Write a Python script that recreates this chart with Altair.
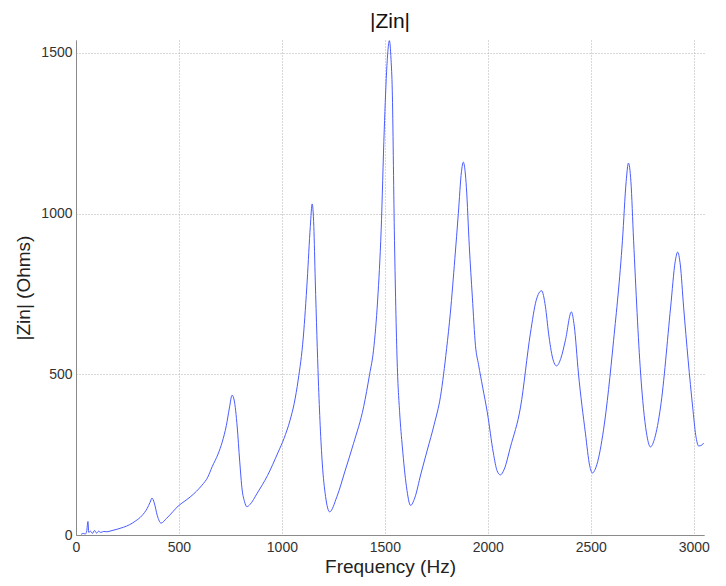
import altair as alt
import pandas as pd

freq = [25, 35, 45, 52, 58, 62, 70, 80, 90, 100, 110, 120, 135, 150, 170, 200, 230, 260, 290, 320,
        345, 360, 369, 380, 395, 413, 440, 470, 496, 525, 554, 585, 612, 640, 661, 690, 710, 730, 745, 758,
        768, 783, 795, 807, 818, 830, 845, 880, 930, 982, 1010, 1040, 1060, 1079, 1104, 1123, 1138, 1147, 1155, 1162,
        1170, 1177, 1186, 1196, 1212, 1232, 1267, 1308, 1348, 1397, 1426, 1445, 1465, 1482, 1497, 1510, 1522, 1530, 1536, 1546, 1560,
        1572, 1585, 1605, 1625, 1645, 1675, 1706, 1740, 1770, 1800, 1818, 1840, 1857, 1872, 1881, 1890, 1896, 1910, 1925, 1940,
        1955, 1975, 1998, 2027, 2045, 2061, 2080, 2110, 2159, 2207, 2235, 2261, 2280, 2295, 2315, 2334, 2355, 2377, 2406, 2420,
        2440, 2474, 2495, 2508, 2530, 2562, 2611, 2654, 2672, 2683, 2695, 2708, 2742, 2770, 2790, 2810, 2839, 2888, 2910, 2922,
        2935, 2951, 2995, 3010, 3024, 3040, 3048]
zin = [2, 5, 3, 12, 42, 8, 12, 5, 14, 6, 12, 8, 11, 10, 13, 18, 24, 32, 44, 60,
       82, 102, 115, 100, 60, 37, 52, 72, 90, 104, 118, 136, 155, 180, 212, 252, 289, 340, 395, 435,
       420, 336, 230, 140, 105, 88, 95, 130, 185, 258, 300, 358, 410, 482, 616, 793, 960, 1030, 960, 793,
       620, 482, 340, 224, 120, 72, 119, 202, 285, 399, 500, 575, 731, 948, 1260, 1460, 1538, 1480, 1384, 948, 535,
       380, 274, 150, 92, 115, 190, 264, 345, 430, 580, 690, 860, 1001, 1130, 1160, 1130, 1082, 900, 740, 590,
       530, 460, 380, 255, 200, 187, 205, 274, 398, 628, 730, 760, 710, 628, 550, 526, 550, 606, 694, 650,
       504, 317, 215, 193, 220, 327, 606, 917, 1100, 1157, 1100, 917, 504, 320, 274, 300, 398, 709, 850, 880,
       840, 709, 398, 310, 277, 280, 286]

x_ticks = [0, 500, 1000, 1500, 2000, 2500, 3000]
y_ticks = [0, 500, 1000, 1500]

df = pd.DataFrame({"f": freq, "z": zin})

FONT = "Liberation Sans"

chart = alt.Chart(df).mark_line(
    color="#4a5cff", strokeWidth=1, interpolate="monotone", clip=True
).encode(
    x=alt.X("f:Q", title="Frequency (Hz)",
            scale=alt.Scale(domain=[0, 3050], nice=False, zero=False),
            axis=alt.Axis(values=x_ticks, format="d", grid=True, gridDash=[1, 2], gridColor="#b0b0b0",
                          domainColor="#8a8a8a", ticks=False, labelPadding=5,
                          labelFont=FONT, labelFontSize=14, labelColor="#333333",
                          titleFont=FONT, titleFontSize=19, titleFontWeight="normal", titleColor="#222222",
                          titlePadding=3, labelFlush=False)),
    y=alt.Y("z:Q", title="|Zin| (Ohms)",
            scale=alt.Scale(domain=[0, 1540], nice=False),
            axis=alt.Axis(values=y_ticks, format="d", grid=True, gridDash=[1, 2], gridColor="#b0b0b0",
                          domainColor="#8a8a8a", ticks=False, labelPadding=4,
                          labelFont=FONT, labelFontSize=14, labelColor="#333333",
                          titleFont=FONT, titleFontSize=19, titleFontWeight="normal", titleColor="#222222",
                          titlePadding=7)),
).properties(
    width=628, height=495,
    title=alt.TitleParams("|Zin|", font=FONT, fontSize=21, fontWeight="normal", color="#111111", offset=8),
    autosize=alt.AutoSizeParams(type="none"),
    padding={"left": 68, "top": 32, "right": 10, "bottom": 52},
).configure_view(stroke=None)

chart.save("out.html", embed_options={"renderer": "svg", "actions": False})
